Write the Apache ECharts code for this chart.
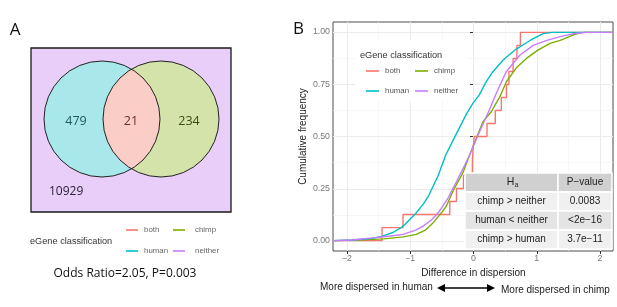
<!DOCTYPE html>
<html>
<head>
<meta charset="utf-8">
<script src="https://cdn.jsdelivr.net/npm/echarts@6/dist/echarts.min.js"></script>
<style>
html, body { margin: 0; padding: 0; background: #fff; }
#main { width: 617px; height: 307px; }
</style>
</head>
<body>
<div id="main"></div>
<script>
// groups, in ggplot draw order
var groupNames = ['both', 'chimp', 'human', 'neither'];

// venn counts: human only, both, chimp only, neither
var vennCounts = [479, 21, 234, 10929];
var oddsRatio = '2.05';
var oddsP = '0.003';

// both: 16 genes, step ECDF
var bothDiff = [-1.43, -1.10, -0.365, -0.26, -0.15, -0.01, 0.0, 0.02, 0.22, 0.35, 0.445, 0.525, 0.565, 0.63, 0.69, 0.745];

// ECDF curves (difference, cumulative frequency)
var chimpDiff = [-1.8, -1.4, -1.1, -0.89, -0.75, -0.63, -0.48, -0.42, -0.32, -0.16, -0.055, 0.05, 0.155, 0.29, 0.42, 0.525, 0.68, 0.84, 1.02, 1.21, 1.37, 1.55, 1.68, 1.75];
var chimpFreq = [0.002, 0.008, 0.018, 0.03, 0.05, 0.085, 0.14, 0.165, 0.235, 0.325, 0.41, 0.49, 0.57, 0.62, 0.69, 0.763, 0.83, 0.875, 0.915, 0.947, 0.962, 0.985, 0.998, 1];

var humanDiff = [-1.9, -1.6, -1.43, -1.25, -1.1, -1.0, -0.9, -0.77, -0.69, -0.55, -0.43, -0.3, -0.2, -0.1, 0.0, 0.1, 0.2, 0.31, 0.47, 0.58, 0.68, 0.89, 1.1, 1.25];
var humanFreq = [0.003, 0.01, 0.02, 0.04, 0.068, 0.1, 0.13, 0.18, 0.22, 0.31, 0.41, 0.49, 0.55, 0.61, 0.66, 0.70, 0.76, 0.81, 0.866, 0.895, 0.92, 0.96, 0.994, 1];

var neitherDiff = [-1.9, -1.58, -1.3, -1.1, -0.9, -0.79, -0.65, -0.53, -0.4, -0.265, -0.15, -0.055, 0.07, 0.26, 0.37, 0.52, 0.735, 0.945, 1.16, 1.37, 1.6, 1.8];
var neitherFreq = [0.003, 0.013, 0.022, 0.03, 0.05, 0.068, 0.1, 0.14, 0.2, 0.28, 0.35, 0.41, 0.5, 0.63, 0.71, 0.81, 0.89, 0.938, 0.962, 0.98, 0.995, 1];

// test table
var tableHead = ['H', 'P\u2212value'];
var tableTests = ['chimp > neither', 'human < neither', 'chimp > human'];
var tablePvals = ['0.0083', '<2e\u221216', '3.7e\u221211'];

var groupColors = ['#F8766D', '#7CAE00', '#00BFC4', '#C77CFF'];
var xMin = -2.2, xMax = 2.2;
var ggFont = '"Liberation Sans", Arial, sans-serif';
var labFont = '"Open Sans", "Noto Sans", sans-serif';

function ecdfLine(diff, freq) {
	var pts = [[xMin, 0]];
	for (var i = 0; i < diff.length; i++) {
		pts.push([diff[i], freq[i]]);
	}
	pts.push([xMax, 1]);
	return pts;
}

function ecdfStep(values) {
	var pts = [[xMin, 0]];
	for (var i = 0; i < values.length; i++) {
		pts.push([values[i], (i + 1) / values.length]);
	}
	pts.push([xMax, 1]);
	return pts;
}

function txt(x, y, s, size, color, align, family) {
	return {
		type : 'text',
		x : x,
		y : y,
		z : 60,
		style : {
			text : s,
			fill : color,
			font : size + 'px ' + (family || ggFont),
			align : align || 'left',
			textAlign : align || 'left',
			verticalAlign : 'middle',
			textVerticalAlign : 'middle'
		}
	};
}

//arc points of a circle between two angles
function arcPoints(cx, cy, r, a0, a1, n) {
	var pts = [];
	for (var i = 0; i <= n; i++) {
		var a = a0 + (a1 - a0) * i / n;
		pts.push([cx + r * Math.cos(a), cy + r * Math.sin(a)]);
	}
	return pts;
}

//venn diagram (panel A)
function buildVenn() {
	var els = [];
	var hx = 102, cx = 161, cy = 119, r = 58;
	els.push({ type : 'rect', z : 10, shape : { x : 31, y : 48, width : 200, height : 164 },
		style : { fill : '#E8CEF8', stroke : '#1a1a1a', lineWidth : 1.3 } });
	els.push({ type : 'circle', z : 11, shape : { cx : hx, cy : cy, r : r }, style : { fill : '#A9E8EA' } });
	els.push({ type : 'circle', z : 11, shape : { cx : cx, cy : cy, r : r }, style : { fill : '#D4E3A9' } });
	// lens = human arc (right side) + chimp arc (left side)
	var t = Math.acos((cx - hx) / 2 / r);
	var lens = arcPoints(hx, cy, r, -t, t, 40).concat(arcPoints(cx, cy, r, Math.PI - t, Math.PI + t, 40));
	els.push({ type : 'polygon', z : 12, shape : { points : lens }, style : { fill : '#FBCDC7' } });
	els.push({ type : 'circle', z : 13, shape : { cx : hx, cy : cy, r : r }, style : { fill : 'none', stroke : '#222', lineWidth : 1 } });
	els.push({ type : 'circle', z : 13, shape : { cx : cx, cy : cy, r : r }, style : { fill : 'none', stroke : '#222', lineWidth : 1 } });

	els.push(txt(76, 121, String(vennCounts[0]), 12.5, '#1F5A5E', 'center', labFont));
	els.push(txt(131, 121, String(vennCounts[1]), 12.5, '#6A2C28', 'center', labFont));
	els.push(txt(189, 121, String(vennCounts[2]), 12.5, '#3C4A12', 'center', labFont));
	els.push(txt(49, 192, String(vennCounts[3]), 12, '#2A2238', 'left', labFont));

	els.push(txt(125, 274, 'Odds Ratio=' + oddsRatio + ', P=' + oddsP, 12, '#111', 'center', labFont));
	els.push(txt(15, 30, 'A', 17, '#111', 'center', labFont));
	els.push(txt(298.5, 29, 'B', 17, '#111', 'center', labFont));
	return els;
}

//legend: two columns, two rows
function buildLegend(titleX, titleY, lineX, textX, rowY, lineLen, textColor, bg) {
	var els = [];
	if (bg) {
		els.push({ type : 'rect', z : 50, shape : bg, style : { fill : '#fff' } });
	}
	els.push(txt(titleX, titleY, 'eGene classification', 9.2, '#333'));
	for (var i = 0; i < groupNames.length; i++) {
		var col = i % 2, row = Math.floor(i / 2);
		els.push({ type : 'line', z : 60,
			shape : { x1 : lineX[col], y1 : rowY[row], x2 : lineX[col] + lineLen, y2 : rowY[row] },
			style : { stroke : groupColors[i], lineWidth : 1.6 } });
		els.push(txt(textX[col], rowY[row], groupNames[i], 7.9, textColor));
	}
	return els;
}

//table of tests (panel B)
function buildTable() {
	var els = [];
	var colX = [465, 558, 612];
	var rowY = [173, 192, 211, 230, 249];
	var fills = ['#D0D0D0', '#F0F0F0', '#E4E4E4', '#F0F0F0'];
	for (var r = 0; r < 4; r++) {
		for (var c = 0; c < 2; c++) {
			els.push({ type : 'rect', z : 55,
				shape : { x : colX[c], y : rowY[r], width : colX[c + 1] - colX[c], height : rowY[r + 1] - rowY[r] },
				style : { fill : fills[r], stroke : '#fff', lineWidth : 1.5 } });
		}
	}
	var c1 = (colX[0] + colX[1]) / 2, c2 = (colX[1] + colX[2]) / 2;
	var hy = (rowY[0] + rowY[1]) / 2;
	els.push(txt(c1 - 1, hy, tableHead[0], 10.5, '#222', 'center'));
	els.push(txt(c1 + 5, hy + 3, 'a', 6.5, '#222', 'center'));
	els.push(txt(c2, hy, tableHead[1], 10, '#222', 'center'));
	for (var i = 0; i < tableTests.length; i++) {
		var y = (rowY[i + 1] + rowY[i + 2]) / 2;
		els.push(txt(c1, y, tableTests[i], 10, '#222', 'center'));
		els.push(txt(c2, y, tablePvals[i], 10, '#222', 'center'));
	}
	return els;
}

//arrow below x axis
function buildArrow() {
	var y = 288;
	return [
		txt(320, 287, 'More dispersed in human', 10, '#222'),
		txt(501, 290, 'More dispersed in chimp', 10, '#222'),
		{ type : 'line', z : 60, shape : { x1 : 443, y1 : y, x2 : 489, y2 : y }, style : { stroke : '#000', lineWidth : 1.4 } },
		{ type : 'polygon', z : 60, shape : { points : [[437, y], [445, y - 4], [445, y + 4]] }, style : { fill : '#000' } },
		{ type : 'polygon', z : 60, shape : { points : [[495, y], [487, y - 4], [487, y + 4]] }, style : { fill : '#000' } }
	];
}

var lineData = {
	both : ecdfStep(bothDiff),
	chimp : ecdfLine(chimpDiff, chimpFreq),
	human : ecdfLine(humanDiff, humanFreq),
	neither : ecdfLine(neitherDiff, neitherFreq)
};

var series = [];
for (var i = 0; i < groupNames.length; i++) {
	series.push({
		name : groupNames[i],
		type : 'line',
		xAxisIndex : 0,
		yAxisIndex : 0,
		data : lineData[groupNames[i]],
		step : groupNames[i] == 'both' ? 'end' : false,
		showSymbol : false,
		symbol : 'none',
		lineStyle : { color : groupColors[i], width : 1.4 },
		z : 5
	});
}

var graphics = [].concat(buildVenn(),
	buildLegend(30, 241, [126, 173], [144, 195], [230, 251], 12, '#666', null),
	buildLegend(360, 55, [366, 415], [385, 434], [71, 91], 13, '#555', { x : 355, y : 40, width : 112, height : 61 }),
	buildTable(), buildArrow());

var gridLine = { color : '#EBEBEB', width : 1 };
var minorLine = { color : '#F3F3F3', width : 0.7 };

var option = {
	animation : false,
	backgroundColor : '#fff',
	grid : [
		{ left : 333, right : 4, top : 22, bottom : 56, show : true, borderColor : '#4d4d4d', borderWidth : 1 },
		{ left : 333, right : 4, top : 32, bottom : 66 },
		{ left : 347, right : 17, top : 22, bottom : 56 }
	],
	xAxis : [
		{ gridIndex : 0, type : 'value', min : xMin, max : xMax, show : false },
		{ gridIndex : 1, type : 'value', min : xMin, max : xMax, show : false },
		{ gridIndex : 2, type : 'value', min : -2, max : 2, interval : 1,
			axisLine : { show : false },
			axisTick : { length : 3, lineStyle : { color : '#333' } },
			axisLabel : { color : '#777', fontSize : 8.8, fontFamily : ggFont, margin : 3,
				formatter : function(v) { return v < 0 ? '\u2212' + Math.abs(v) : String(v); } },
			splitLine : { lineStyle : gridLine },
			minorTick : { show : false, splitNumber : 2 },
			minorSplitLine : { show : true, lineStyle : minorLine },
			name : 'Difference in dispersion', nameLocation : 'middle', nameGap : 15,
			nameTextStyle : { fontSize : 10, fontFamily : ggFont, color : '#222' } }
	],
	yAxis : [
		{ gridIndex : 0, type : 'value', min : -0.05, max : 1.05, show : false },
		{ gridIndex : 1, type : 'value', min : 0, max : 1, interval : 0.25,
			axisLine : { show : false },
			axisTick : { length : 3, lineStyle : { color : '#333' } },
			axisLabel : { color : '#777', fontSize : 8.8, fontFamily : ggFont, margin : 3,
				formatter : function(v) { return v.toFixed(2); } },
			splitLine : { lineStyle : gridLine },
			minorTick : { show : false, splitNumber : 2 },
			minorSplitLine : { show : true, lineStyle : minorLine },
			name : 'Cumulative frequency', nameLocation : 'middle', nameGap : 25, nameRotate : 90,
			nameTextStyle : { fontSize : 10, fontFamily : ggFont, color : '#222' } },
		{ gridIndex : 2, type : 'value', min : 0, max : 1, show : false }
	],
	series : series,
	graphic : { elements : graphics }
};

var myChart = echarts.init(document.getElementById('main'));
myChart.setOption(option);
</script>
</body>
</html>
